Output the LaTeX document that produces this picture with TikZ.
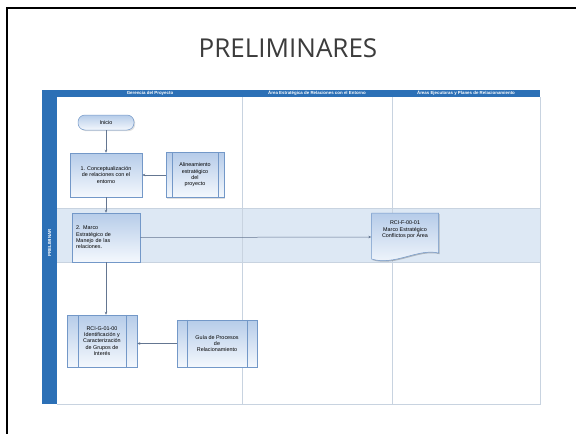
\documentclass[tikz,border=0pt]{standalone}
\usepackage{fontspec}
\setmainfont{Liberation Sans}
\newfontfamily\titlefont{Open Sans}
\usetikzlibrary{calc,shadows,arrows.meta}
\definecolor{bandblue}{RGB}{44,112,182}
\definecolor{rowblue}{RGB}{221,232,244}
\definecolor{gridcol}{RGB}{200,211,224}
\definecolor{boxborder}{RGB}{115,152,200}
\definecolor{boxtop}{RGB}{182,204,233}
\definecolor{boxbot}{RGB}{244,248,253}
\definecolor{conncol}{RGB}{100,118,145}
\definecolor{titlecol}{RGB}{60,60,60}
\tikzset{
  boxtext/.style={font=\fontsize{5.4}{6.4}\selectfont, text=black, align=center, inner sep=1pt},
  procbox/.style={boxtext, rectangle, draw=boxborder, line width=0.5pt, top color=boxtop, bottom color=boxbot,
    drop shadow={shadow xshift=1.2pt, shadow yshift=-1.2pt, opacity=0.25}},
  termbox/.style={boxtext, rectangle, rounded corners=7pt, draw=boxborder, line width=0.5pt, top color=boxtop, bottom color=boxbot,
    drop shadow={shadow xshift=1.2pt, shadow yshift=-1.2pt, opacity=0.25}},
  conn/.style={draw=conncol, line width=0.5pt, -{Stealth[length=3pt,width=2.6pt]}},
  hdr/.style={font=\fontsize{4.4}{5}\selectfont\bfseries, text=white, inner sep=0pt},
  grid/.style={draw=gridcol, line width=0.6pt},
}
\begin{document}
\begin{tikzpicture}[x=1pt,y=-1pt]
\useasboundingbox (0,0) rectangle (576,434);
\fill[white] (0,0) rectangle (576,434);
% slide frame
\draw[black, line width=2pt] (7,434) -- (7,8) -- (576,8);
% title
\node[font=\titlefont\fontsize{26}{30}\selectfont, text=titlecol] (title) at (288,48) {PRELIMINARES};
% swimlane table
\fill[white] (57,97) rectangle (540,404);
\fill[rowblue] (57,208) rectangle (540,262);
\draw[grid] (57,208) -- (540,208);
\draw[grid] (57,262) -- (540,262);
\draw[grid] (242,97) -- (242,404);
\draw[grid] (392,97) -- (392,404);
\draw[grid] (540,97) -- (540,404) -- (57,404);
\fill[bandblue] (42,90) rectangle (540,97);
\fill[bandblue] (42,90) rectangle (57,404);
\node[hdr] (h1) at (150,93.5) {Gerencia del Proyecto};
\node[hdr] (h2) at (317,93.5) {Área Estratégica de Relaciones con el Entorno};
\node[hdr] (h3) at (466,93.5) {Áreas Ejecutoras y Planes de Relacionamiento};
\node[hdr, rotate=90] (lane) at (49.5,243) {PRELIMINAR};
% nodes
\node[termbox, minimum width=56pt, minimum height=15pt] (inicio) at (106,122.5) {Inicio};
\node[procbox, minimum width=72pt, minimum height=44pt] (b1) at (106,175) {1. Conceptualización\\de relaciones con el\\entorno};
\node[procbox, minimum width=58pt, minimum height=45pt] (alin) at (195,175) {Alineamiento\\estratégico\\del\\proyecto};
\draw[boxborder, line width=0.5pt] ([xshift=6pt]alin.north west) -- ([xshift=6pt]alin.south west);
\draw[boxborder, line width=0.5pt] ([xshift=-6pt]alin.north east) -- ([xshift=-6pt]alin.south east);
\node[procbox, minimum width=68pt, minimum height=49pt, align=left, text width=60pt] (b2) at (106,237.5) {2. Marco\\Estratégico de\\Manejo de las\\relaciones.};
% document
\node[minimum width=67pt, minimum height=48pt, inner sep=0pt] (doc) at (405,237) {};
\fill[black, opacity=0.22] (372.7,214.2) -- (439.7,214.2) -- (439.7,254.2)
  .. controls (419,249) and (396,267) .. (372.7,260.2) -- cycle;
\draw[boxborder, line width=0.5pt, top color=boxtop, bottom color=boxbot] (371.5,213) -- (438.5,213) -- (438.5,253)
  .. controls (418,248) and (395,266) .. (371.5,259) -- cycle;
\node[boxtext] (doctext) at (405,230) {RCI-F-00-01\\Marco Estratégico\\Conflictos por Área};
\node[procbox, minimum width=70pt, minimum height=52pt] (rci) at (102,341) {RCI-G-01-00\\Identificación y\\Caracterización\\de Grupos de\\Interés};
\draw[boxborder, line width=0.5pt] ([xshift=11pt]rci.north west) -- ([xshift=11pt]rci.south west);
\draw[boxborder, line width=0.5pt] ([xshift=-11pt]rci.north east) -- ([xshift=-11pt]rci.south east);
\node[procbox, minimum width=80pt, minimum height=47pt] (guia) at (217,343.5) {Guía de Procesos\\de\\Relacionamiento};
\draw[boxborder, line width=0.5pt] ([xshift=10pt]guia.north west) -- ([xshift=10pt]guia.south west);
\draw[boxborder, line width=0.5pt] ([xshift=-10pt]guia.north east) -- ([xshift=-10pt]guia.south east);
% connectors
\draw[conn] (inicio.south) -- (b1.north);
\draw[conn] (alin.west) -- (b1.east);
\draw[conn] (b1.south) -- (b2.north);
\draw[conn] (b2.east) -- (doc.west);
\draw[conn] (b2.south) -- (b2.south |- rci.north);
\draw[conn] (guia.west) -- (guia.west -| rci.east);
\end{tikzpicture}
\end{document}
